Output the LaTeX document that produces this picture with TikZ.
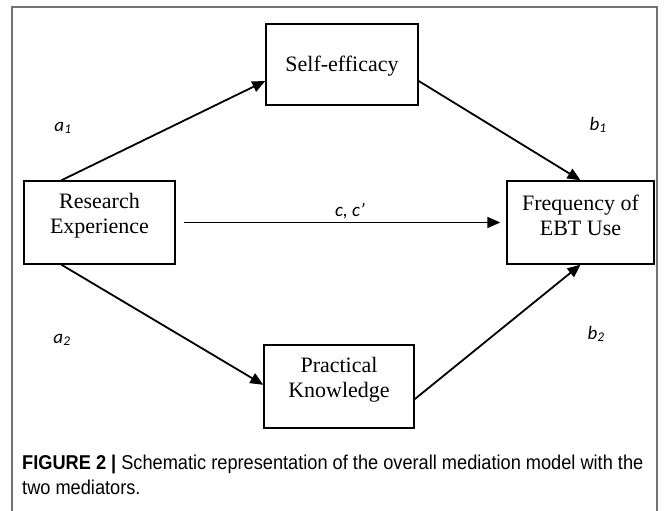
\documentclass[tikz,border=0pt]{standalone}
\usepackage{fontspec}
\setmainfont{Liberation Serif}
\newfontfamily\lblfont{Carlito}
\newfontfamily\capfont[FakeStretch=0.91]{Liberation Sans}
\usetikzlibrary{arrows.meta,calc}
\tikzset{
  box/.style={draw=black, line width=1.4pt, inner sep=0pt},
  boxtext/.style={align=center, inner sep=0pt, font=\fontsize{22}{25.5}\selectfont},
  arr/.style={line width=1.8pt, -{Triangle[length=13pt,width=11pt]}},
  lbl/.style={font=\lblfont\itshape\fontsize{19}{20}\selectfont, inner sep=0pt},
  frame/.style={draw=black!55, line width=1.3pt}
}
\begin{document}
\begin{tikzpicture}[x=1pt,y=-1pt]
\useasboundingbox (0,0) rectangle (669,511);
\fill[white] (0,0) rectangle (669,511);
\draw[frame] (12,511) -- (12,7) -- (657,7) -- (657,511);

\node[box, minimum width=152pt, minimum height=81pt] (S) at (342,64.5) {};
\node[box, minimum width=151pt, minimum height=83pt] (R) at (99.5,222.5) {};
\node[box, minimum width=147pt, minimum height=83pt] (F) at (580.5,222.5) {};
\node[box, minimum width=150pt, minimum height=83pt] (P) at (339,386.5) {};

\node[boxtext] (St) at ($(S.center)+(0,2)$) {Self-efficacy};
\node[boxtext] (Rt) at ($(R.center)+(0,-7)$) {Research\\Experience};
\node[boxtext] (Ft) at ($(F.center)+(0,-7)$) {Frequency of\\EBT Use};
\node[boxtext] (Pt) at ($(P.center)+(0,-7)$) {Practical\\Knowledge};

\draw[arr] ($(R.north west)!0.25!(R.north east)$) -- ($(S.south west)!0.3!(S.north west)$);
\draw[arr] ($(S.south east)!0.3!(S.north east)$) -- (F.north);
\draw[arr, shorten <=8pt, shorten >=6pt] (R.east) -- (F.west);
\draw[arr] ($(R.south west)!0.25!(R.south east)$) -- ($(P.south west)!0.52!(P.north west)$);
\draw[arr] ($(P.south east)!0.35!(P.north east)$) -- (F.south);

\node[lbl] (la1) at (63,128) {a\textsubscript{1}};
\node[lbl] (lb1) at (598,125) {b\textsubscript{1}};
\node[lbl] (lc) at (350,211) {c, c’};
\node[lbl] (la2) at (62,340) {a\textsubscript{2}};
\node[lbl] (lb2) at (596,334) {b\textsubscript{2}};

\node[anchor=north west, align=left, inner sep=0pt,
  font=\capfont\fontsize{20}{25}\selectfont] (cap) at (22,455)
  {\textbf{FIGURE 2 |} Schematic representation of the overall mediation model with the\\two mediators.};
\end{tikzpicture}
\end{document}
